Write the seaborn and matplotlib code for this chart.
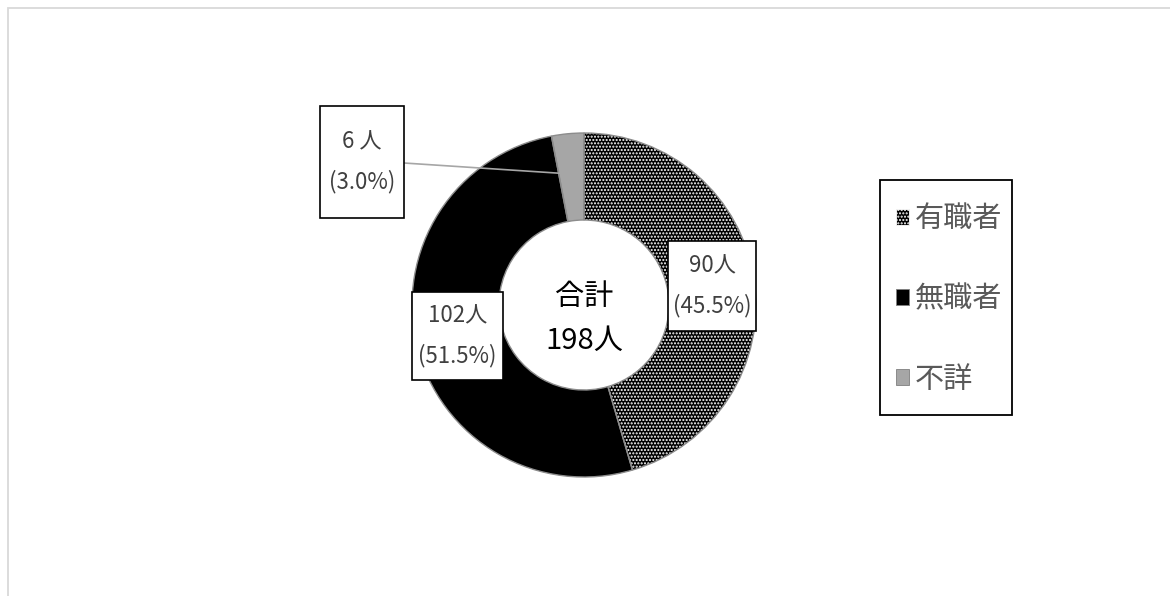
import matplotlib
matplotlib.use("Agg")
import matplotlib.pyplot as plt
from matplotlib.patches import Rectangle, Patch
import numpy as np
import seaborn as sns

# Data
categories = ["有職者", "無職者", "不詳"]
counts = [90, 102, 6]
count_sep = ["", "", " "]
total_label = "合計"

sns.set_theme(style="white")
plt.rcParams["font.family"] = ["Noto Sans CJK JP", "DejaVu Sans"]
plt.rcParams["hatch.linewidth"] = 1.0

W, H = 1170, 596
fig = plt.figure(figsize=(W / 100, H / 100), dpi=100)
ax = fig.add_axes([0, 0, 1, 1])

total = sum(counts)
cx, cy = 584, H - 305
R, ring = 172, 87

face = ["black", "black", "#a6a6a6"]
hatches = [".....", None, None]
hatch_col = ["white", "black", "#a6a6a6"]

# filled ring (hatch colour follows the edge colour)
wedges, _ = ax.pie(counts, center=(cx, cy), radius=R, startangle=90,
                   counterclock=False, colors=face,
                   wedgeprops=dict(width=ring, linewidth=0))
for w, h, hc in zip(wedges, hatches, hatch_col):
    if h:
        w.set_hatch(h)
        w.set_edgecolor(hc)
        w.set_linewidth(0)

# outlines
ax.pie(counts, center=(cx, cy), radius=R, startangle=90,
       counterclock=False,
       wedgeprops=dict(width=ring, linewidth=1.0, edgecolor="#8c8c8c", fill=False))

# centre total
ax.text(cx, H - 297, total_label, ha="center", va="center", fontsize=21, color="black")
ax.text(cx, H - 341, f"{total}人", ha="center", va="center", fontsize=21, color="black")

# value boxes (left, top, width, height)
boxes = [(668, 241, 88, 90), (412, 292, 91, 88), (320, 106, 84, 112)]
for v, sep, (bx, by, bw, bh) in zip(counts, count_sep, boxes):
    ax.add_patch(Rectangle((bx, H - by - bh), bw, bh, facecolor="white",
                           edgecolor="black", linewidth=1.2, zorder=5))
    mx, my = bx + bw / 2, H - by - bh / 2
    ax.text(mx, my + 20, f"{v}{sep}人", ha="center", va="center",
            fontsize=16, color="#404040", zorder=6)
    ax.text(mx, my - 20, f"({v / total * 100:.1f}%)", ha="center", va="center",
            fontsize=16, color="#404040", zorder=6)

# leader line for the small slice
w = wedges[2]
ang = np.deg2rad(w.theta1 + 0.05 * (w.theta2 - w.theta1))
rr = R - ring * 0.48
ex, ey = cx + rr * np.cos(ang), cy + rr * np.sin(ang)
bx, by, bw, bh = boxes[2]
ax.plot([bx + bw, ex], [H - 163, ey], color="#a6a6a6", linewidth=1.2, zorder=4)

# legend with its own box
lx, ly, lw_, lh = 880, 180, 132, 235
ax.add_patch(Rectangle((lx, H - ly - lh), lw_, lh, facecolor="white",
                       edgecolor="black", linewidth=1.3, zorder=3))
handles = [Patch(facecolor=f, edgecolor=hc if h else "#7f7f7f", hatch=h, linewidth=0.6)
           for f, h, hc in zip(face, hatches, hatch_col)]
leg = ax.legend(handles, categories, loc="center",
                bbox_to_anchor=((lx + lw_ / 2 + 3) / W, 1 - (ly + lh / 2 + 2) / H),
                borderaxespad=0, borderpad=0,
                fontsize=21, frameon=False,
                handlelength=0.47, handleheight=0.47, handletextpad=0.2,
                labelspacing=1.72, labelcolor="#595959")
leg.set_zorder(6)

# chart area frame
ax.add_patch(Rectangle((8, -20), W + 20, H - 8 + 20, facecolor="none",
                       edgecolor="#d9d9d9", linewidth=1.3))

ax.set_xlim(0, W)
ax.set_ylim(0, H)
ax.set_aspect("equal")
ax.axis("off")

fig.savefig("out.png", dpi=100)
